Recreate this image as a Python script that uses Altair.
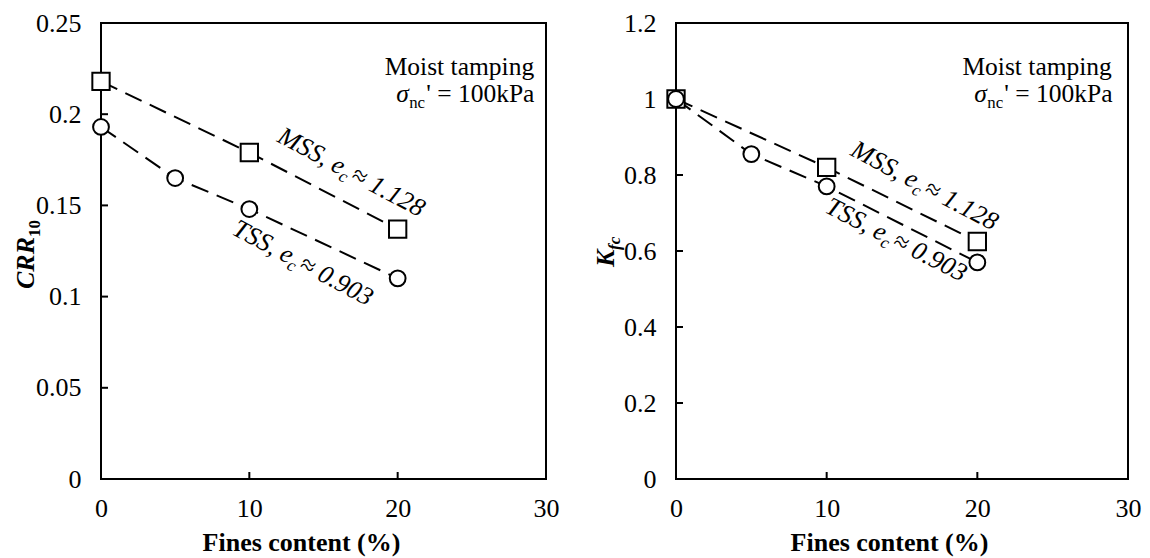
import altair as alt
import pandas as pd

# ---- data ----
fines_mss = [0, 10, 20]
fines_tss = [0, 5, 10, 20]
crr_mss = [0.218, 0.179, 0.137]
crr_tss = [0.193, 0.165, 0.148, 0.110]
kfc_mss = [1.0, 0.82, 0.625]
kfc_tss = [1.0, 0.855, 0.77, 0.57]

x_ticks = [0, 10, 20, 30]
crr_ticks = [0, 0.05, 0.1, 0.15, 0.2, 0.25]
kfc_ticks = [0, 0.2, 0.4, 0.6, 0.8, 1.0, 1.2]

FONT = "Liberation Serif"
H = 456
ONE = pd.DataFrame({"k": [0]})


def text_piece(text, x, y, angle=0, dx=0, dy=0, size=25, style="normal",
               weight="normal", align="left", baseline="alphabetic"):
    return alt.Chart(ONE).mark_text(
        text=text, align=align, baseline=baseline, angle=angle, dx=dx, dy=dy,
        font=FONT, fontSize=size, fontStyle=style, fontWeight=weight,
        color="black").encode(x=x, y=y)


def series_label(name, ec, xpos, ypos, angle, size=26):
    # "NAME, e_c ≈ value" in italics, with subscript c
    w_main = {"MSS": 2.777, "TSS": 2.500}[name] * size
    w_c = 0.444 * size * 0.66
    return [
        text_piece(f"{name}, e", xpos, ypos, angle, 0, 0, size, "italic"),
        text_piece("c", xpos, ypos, angle, w_main, 5, size * 0.66, "italic"),
        text_piece(f" \u2248 {ec}", xpos, ypos, angle, w_main + w_c + 3, 0, size,
                   "italic"),
    ]


def note(xr, yr, xs_, ys_, size=25.5):
    return [
        text_piece("Moist tamping", xr, yr, size=size, align="right"),
        text_piece("\u03c3", xs_, ys_, size=size, style="italic"),
        text_piece("nc", xs_, ys_, dx=13, dy=6, size=size * 0.66),
        text_piece("' = 100kPa", xs_, ys_, dx=30, size=size),
    ]


def panel(width, mss_y, tss_y, yticks, ymax, labels, notes, ytitle, title_x):
    xs = alt.Scale(domain=[0, 30], nice=False, zero=False)
    ys = alt.Scale(domain=[0, ymax], nice=False, zero=False)
    xax = alt.Axis(values=x_ticks, ticks=False, domain=False, grid=False,
                   labelFont=FONT, labelFontSize=26, labelColor="black",
                   labelPadding=16, labelFlush=False,
                   title="Fines content (%)", titleFont=FONT, titleFontSize=26,
                   titleFontWeight="bold", titleColor="black", titlePadding=8,
                   titleX=title_x, titleAlign="center")
    yax = alt.Axis(values=yticks, ticks=False, domain=False, grid=False,
                   format="~g", labelFont=FONT, labelFontSize=26,
                   labelColor="black", labelPadding=20, labelFlush=False,
                   title=None)
    X = alt.X("x:Q", scale=xs, axis=xax)
    Y = alt.Y("y:Q", scale=ys, axis=yax)

    d_m = pd.DataFrame({"x": fines_mss, "y": mss_y})
    d_t = pd.DataFrame({"x": fines_tss, "y": tss_y})
    dash = [18, 9]
    line_m = alt.Chart(d_m).mark_line(color="black", strokeWidth=2,
                                      strokeDash=dash).encode(x=X, y=Y)
    line_t = alt.Chart(d_t).mark_line(color="black", strokeWidth=2,
                                      strokeDash=dash).encode(x=X, y=Y)
    pts_m = alt.Chart(d_m).mark_point(shape="square", size=300, filled=True,
                                      fill="white", stroke="black",
                                      strokeWidth=2, opacity=1).encode(x=X, y=Y)
    pts_t = alt.Chart(d_t).mark_point(shape="circle", size=250, filled=True,
                                      fill="white", stroke="black",
                                      strokeWidth=2, opacity=1).encode(x=X, y=Y)

    inner_y = [v for v in yticks if 0 < v < ymax]
    inner_x = [v for v in x_ticks if 0 < v < 30]
    ytk = alt.Chart(pd.DataFrame({"y": inner_y})).mark_rule(
        color="black", strokeWidth=2).encode(
        y=alt.Y("y:Q", scale=ys, axis=yax), x=alt.value(0), x2=alt.value(7))
    xtk = alt.Chart(pd.DataFrame({"x": inner_x})).mark_rule(
        color="black", strokeWidth=2).encode(
        x=alt.X("x:Q", scale=xs, axis=xax), y=alt.value(H), y2=alt.value(H - 7))

    layers = [ytk, xtk, line_m, line_t, pts_m, pts_t] + labels + notes + ytitle
    return alt.layer(*layers).properties(width=width, height=H)


# left panel
left_labels = (series_label("MSS", "1.128", alt.datum(11.8), alt.datum(0.1852), 28)
               + series_label("TSS", "0.903", alt.datum(8.75), alt.datum(0.1345), 28))
left_notes = note(alt.datum(29.2), alt.datum(0.2215), alt.datum(19.9), alt.datum(0.2066))
left_title = [
    text_piece("CRR", alt.value(-67), alt.value(H / 2 + 38), 270, 0, 0, 26,
               "italic", "bold"),
    text_piece("10", alt.value(-67), alt.value(H / 2 + 38), 270, 52, 6, 17,
               "normal", "bold"),
]
left = panel(445, crr_mss, crr_tss, crr_ticks, 0.25, left_labels, left_notes,
             left_title, 200)

# right panel
right_labels = (series_label("MSS", "1.128", alt.datum(11.5), alt.datum(0.853), 28)
                + series_label("TSS", "0.903", alt.datum(9.8), alt.datum(0.703), 27))
right_notes = note(alt.datum(28.93), alt.datum(1.063), alt.datum(19.8), alt.datum(0.9925))
right_title = [
    text_piece("K", alt.value(-62), alt.value(H / 2 + 16), 270, 0, 0, 26,
               "italic", "bold"),
    text_piece("fc", alt.value(-62), alt.value(H / 2 + 16), 270, 17, 6, 17,
               "italic", "bold"),
]
right = panel(452, kfc_mss, kfc_tss, kfc_ticks, 1.2, right_labels, right_notes,
              right_title, 213)

chart = alt.hconcat(left, right, spacing=130, bounds="flush").properties(
    padding={"left": 12, "top": 9, "right": 5, "bottom": 5},
    background="white",
).configure_view(stroke="black", strokeWidth=2)

chart.save("out.html", embed_options={"renderer": "svg", "actions": False})
